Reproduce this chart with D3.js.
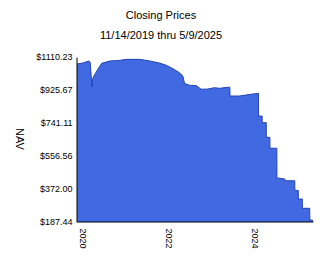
<!DOCTYPE html>
<html><head><meta charset="utf-8">
<script src="https://cdn.jsdelivr.net/npm/d3@7"></script>
<style>body{margin:0;background:#fff}svg{display:block}text{font-family:Arial,"Liberation Sans",sans-serif;fill:#000}</style>
</head><body>
<svg id="c" width="324" height="267"></svg>
<script>
const titleLines = ["Closing Prices", "11/14/2019 thru 5/9/2025"];
const yAxisTitle = "NAV";
const yTicks = [187.44, 372.00, 556.56, 741.11, 925.67, 1110.23];
const xTickYears = [2020, 2022, 2024];
const dates = ["2019-11-14","2020-01-04","2020-02-23","2020-03-05","2020-03-20","2020-03-24","2020-04-10",
 "2020-06-10","2020-08-19","2020-10-26","2021-01-07","2021-04-29","2021-07-23","2021-10-15","2021-12-11",
 "2022-02-05","2022-04-02","2022-04-30","2022-05-15","2022-06-26","2022-08-22","2022-10-03","2022-11-28",
 "2023-01-23","2023-03-07","2023-05-17","2023-06-03","2023-06-05","2023-08-23","2023-11-29","2024-02-01",
 "2024-02-02","2024-03-03","2024-03-04","2024-04-07","2024-04-08","2024-05-08","2024-05-09","2024-07-06",
 "2024-07-07","2024-09-12","2024-09-13","2024-12-05","2024-12-06","2025-01-04","2025-01-05","2025-02-07",
 "2025-02-08","2025-04-11","2025-04-12","2025-05-09"];
const nav = [1071,1077,1088,1080,944,985,1010,
 1075,1088,1090,1097,1097,1088,1076,1064,
 1045,1022,1004,962,952,950,930,931,
 938.6,935,941,941,892,892,901.6,907,
 780,780,743,743,661,661,600,600,
 434,428,418,418,364,364,316,316,
 264,264,199,197];

const parse = d3.timeParse("%Y-%m-%d");
const data = dates.map((d,i)=>({date:parse(d), v:nav[i]}));
const svg = d3.select("#c");
const L=77, R=313, T=57, B=222;
const x = d3.scaleTime().domain([parse("2019-11-14"), parse("2025-05-09")]).range([L,R]);
const y = d3.scaleLinear().domain([187.44,1110.23]).range([B,T]);

svg.append("path").datum(data)
  .attr("d", d3.area().x(d=>x(d.date)).y0(B).y1(d=>y(d.v)))
  .attr("fill","#4169e1");
svg.append("path").datum(data)
  .attr("d", d3.line().x(d=>x(d.date)).y(d=>y(d.v)))
  .attr("fill","none").attr("stroke","#2343b5").attr("stroke-width",1);

// axes
const ya = svg.append("g").attr("transform",`translate(${L-0.5},0)`)
  .call(d3.axisLeft(y).tickValues(yTicks).tickSize(0).tickPadding(4).tickFormat(d=>"$"+d3.format(".2f")(d)));
ya.select(".domain").attr("stroke","#000");
ya.selectAll("text").attr("font-size",9).attr("font-family","Arial, 'Liberation Sans', sans-serif");

const xa = svg.append("g").attr("transform",`translate(0,${B-0.5})`)
  .call(d3.axisBottom(x).tickValues(xTickYears.map(yr=>new Date(yr,0,1))).tickSize(0).tickFormat(d3.timeFormat("%Y")));
xa.select(".domain").attr("stroke","#000");
xa.selectAll("text").attr("font-size",9).attr("font-family","Arial, 'Liberation Sans', sans-serif")
  .attr("text-anchor","start").attr("transform","rotate(90)").attr("x",7).attr("y",0).attr("dy","0.35em");

svg.selectAll("text.title").data(titleLines).enter().append("text")
  .attr("class","title").attr("x",161).attr("y",(d,i)=>19+i*20)
  .attr("text-anchor","middle").attr("font-size",11).text(d=>d);

svg.append("text").attr("transform","translate(16,139) rotate(90)")
  .attr("text-anchor","middle").attr("font-size",11).text(yAxisTitle);
</script>
</body></html>
